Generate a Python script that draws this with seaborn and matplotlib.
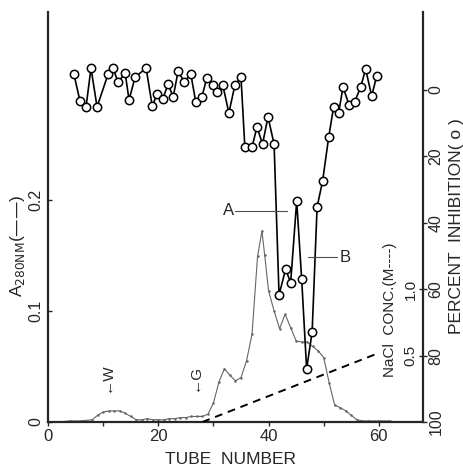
import matplotlib
matplotlib.use("Agg")
import matplotlib.pyplot as plt
import seaborn as sns
import numpy as np
import pandas as pd
from matplotlib.ticker import FixedLocator

sns.set_style("ticks")
plt.rcParams['font.family'] = ['Liberation Sans', 'DejaVu Sans']

# ---- data ----
a280_tube = [0, 2, 4, 6, 8, 9, 10, 11, 12, 13, 14, 15, 16, 17, 18, 19, 20, 21, 22, 23, 24,
             25, 26, 27, 28, 29, 30, 31, 32, 33, 34, 35, 36, 37, 38, 38.8, 39.3, 40, 41, 42,
             43, 44, 45, 46, 47, 48, 49, 50, 51, 52, 53, 54, 55, 56, 57, 58, 60, 62]
a280_abs = [0.0, 0.0, 0.001, 0.001, 0.002, 0.006, 0.009, 0.010, 0.010, 0.010, 0.008, 0.005,
            0.002, 0.002, 0.003, 0.002, 0.002, 0.002, 0.003, 0.003, 0.004, 0.004, 0.005,
            0.005, 0.005, 0.007, 0.017, 0.036, 0.048, 0.042, 0.037, 0.040, 0.055, 0.079,
            0.149, 0.172, 0.150, 0.118, 0.100, 0.084, 0.097, 0.085, 0.073, 0.072, 0.072,
            0.068, 0.064, 0.058, 0.035, 0.015, 0.013, 0.010, 0.006, 0.002, 0.001, 0.001,
            0.001, 0.001]

inh_tube = [4.7, 5.8, 6.9, 7.8, 8.9, 10.9, 11.8, 12.7, 14.0, 14.7, 15.8, 17.8, 18.9, 19.8,
            20.8, 21.8, 22.7, 23.6, 24.7, 25.9, 26.8, 27.9, 28.8, 29.9, 30.6, 31.7, 32.8,
            33.9, 35.0, 35.7, 37.0, 37.9, 38.9, 39.9, 41.0, 41.9, 43.1, 44.0, 45.1, 46.0,
            46.9, 47.9, 48.8, 49.8, 50.9, 51.8, 52.7, 53.5, 54.6, 55.6, 56.7, 57.6, 58.7, 59.6]
inh_pct = [-4.8, 3.3, 5.1, -6.6, 5.1, -4.8, -6.6, -2.4, -5.1, 3.0, -3.9, -6.6, 4.8, 1.2,
           2.7, -1.8, 2.1, -5.7, -2.4, -4.8, 3.6, 2.1, -3.6, -1.5, 0.6, -1.5, 6.9,
           -1.5, -3.9, 17.2, 17.2, 11.1, 16.3, 8.1, 16.3, 61.7, 53.9, 58.1, 33.4, 56.9,
           84.0, 72.9, 35.2, 27.4, 14.2, 5.1, 6.9, -0.9, 4.5, 3.6, -0.9, -6.3, 1.8, -4.2]

nacl_tube = [28, 60]
nacl_conc = [0.0, 0.52]

x_ticks = [0, 20, 40, 60]
a280_ticks = [0, 0.1, 0.2]
a280_ticklabels = ["0", "0.1", "0.2"]
pct_ticks = [0, 20, 40, 60, 80, 100]
nacl_ticks = [0.5, 1.0]
nacl_ticklabels = ["0.5", "1.0"]

# ---- figure ----
fig = plt.figure(figsize=(4.64, 4.68), dpi=100)
ax = fig.add_axes([0.1034, 0.0983, 0.8082, 0.876])
ax2 = ax.twinx()
ax3 = ax.twinx()

ax.set_xlim(0, 68)
ax.set_ylim(0, 0.369)
ax2.set_ylim(100, -23.5)
ax3.set_ylim(0, 3.0875)

df_a = pd.DataFrame({"tube": a280_tube, "abs": a280_abs})
sns.lineplot(data=df_a, x="tube", y="abs", ax=ax, color="0.4", lw=0.8,
             marker="o", markersize=1.8, markeredgewidth=0, estimator=None)

df_i = pd.DataFrame({"tube": inh_tube, "pct": inh_pct})
sns.lineplot(data=df_i, x="tube", y="pct", ax=ax2, color="black", lw=1.2,
             marker="o", markersize=6, markerfacecolor="white",
             markeredgecolor="black", markeredgewidth=1.1, estimator=None, sort=False)

df_n = pd.DataFrame({"tube": nacl_tube, "nacl": nacl_conc})
sns.lineplot(data=df_n, x="tube", y="nacl", ax=ax3, color="black", lw=1.4,
             linestyle=(0, (4, 3)), estimator=None)

for a in (ax, ax2, ax3):
    a.set_xlabel("")
    a.set_ylabel("")
    a.spines["top"].set_visible(False)

# left axis
ax.spines["right"].set_visible(False)
ax.spines["left"].set_linewidth(1.6)
ax.spines["bottom"].set_linewidth(1.6)
ax.set_xticks(x_ticks)
ax.xaxis.set_minor_locator(FixedLocator([10, 30, 50]))
ax.tick_params(axis="x", which="both", direction="out", length=3, width=1, labelsize=12, pad=2)
ax.set_yticks(a280_ticks)
ax.set_yticklabels(a280_ticklabels)
ax.tick_params(axis="y", direction="in", length=3, width=1, labelsize=11.5, labelrotation=90, pad=3)
for lab in ax.get_yticklabels():
    lab.set_va("center")

# right percent axis
ax2.spines["left"].set_visible(False)
ax2.spines["bottom"].set_visible(False)
ax2.spines["right"].set_linewidth(1.6)
ax2.set_yticks(pct_ticks)
ax2.set_yticklabels([str(t) for t in pct_ticks])
ax2.tick_params(axis="y", direction="out", length=3, width=1, labelsize=11.5, labelrotation=90, pad=1)
for lab in ax2.get_yticklabels():
    lab.set_va("center")

# NaCl axis (labels inside, at right spine)
for s in ("right", "bottom"):
    ax3.spines[s].set_visible(False)
ax3.spines["left"].set_position(("axes", 1.0))
ax3.spines["left"].set_visible(False)
ax3.yaxis.set_ticks_position("left")
ax3.yaxis.set_label_position("left")
ax3.set_yticks(nacl_ticks)
ax3.set_yticklabels(nacl_ticklabels)
ax3.tick_params(axis="y", direction="out", length=3, width=1, labelsize=11, labelrotation=90, pad=1)
for lab in ax3.get_yticklabels():
    lab.set_va("center")
ax3.set_ylabel("NaCl  CONC.(M----)", fontsize=11)
ax3.yaxis.set_label_coords((397 - 48) / 375, (422 - 310) / 410)

# annotations
ax.text(10.7, 0.040, "←W", rotation=90, ha="center", va="center", fontsize=11)
ax.text(26.6, 0.040, "←G", rotation=90, ha="center", va="center", fontsize=11)
ax2.plot([33.9, 43.3], [36.4, 36.4], color="0.3", lw=0.8)
ax2.text(33.7, 36.4, "A", ha="right", va="center", fontsize=12)
ax2.plot([47.1, 52.4], [50.3, 50.3], color="0.3", lw=0.8)
ax2.text(52.8, 50.3, "B", ha="left", va="center", fontsize=12)

fig.text(18 / 464, 1 - 246 / 468, r"A$_{\mathrm{280NM}}$(——)", rotation=90,
         ha="center", va="center", fontsize=12.5)
fig.text(457 / 464, 1 - 226 / 468, "PERCENT  INHIBITION( o )", rotation=90,
         ha="center", va="center", fontsize=12.5)
fig.text(231 / 464, 1 - 459 / 468, "TUBE  NUMBER", ha="center", va="center", fontsize=12.5)

fig.savefig("out.png", dpi=100)
